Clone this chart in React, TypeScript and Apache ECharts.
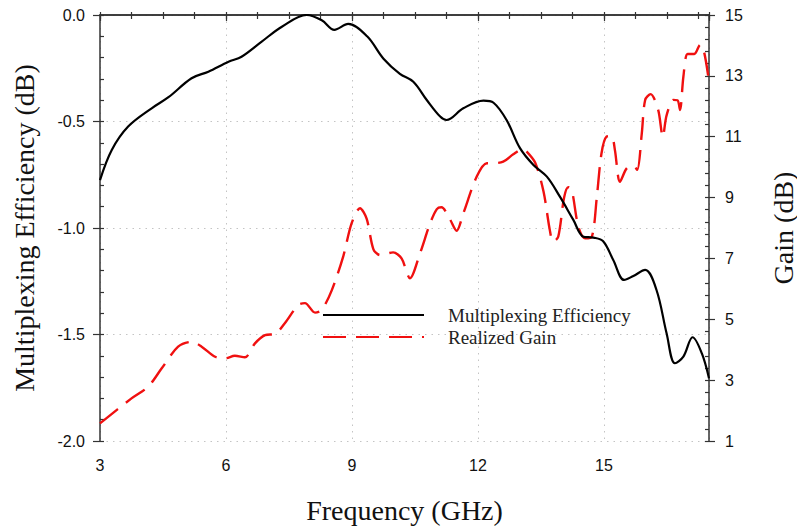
import React, { useEffect, useRef } from "react";
import * as echarts from "echarts";

const effFreq = [3.0, 3.28, 3.67, 4.23, 4.63, 5.18, 5.58, 6.06, 6.37, 6.85, 7.33, 7.92, 8.28, 8.58, 8.91, 9.36, 9.75, 10.14, 10.46, 10.78, 11.1, 11.25, 11.65, 12.13, 12.37, 12.68, 13.0, 13.32, 13.64, 13.95, 14.27, 14.51, 14.75, 14.98, 15.22, 15.48, 15.7, 15.98, 16.25, 16.49, 16.69, 16.89, 17.11, 17.33, 17.5];
const effValues = [-0.775, -0.634, -0.524, -0.438, -0.386, -0.297, -0.266, -0.219, -0.196, -0.125, -0.055, 0.0, -0.025, -0.07, -0.042, -0.1, -0.205, -0.276, -0.313, -0.399, -0.477, -0.493, -0.438, -0.402, -0.412, -0.493, -0.625, -0.704, -0.759, -0.853, -0.962, -1.041, -1.045, -1.062, -1.15, -1.244, -1.225, -1.197, -1.291, -1.494, -1.635, -1.604, -1.513, -1.589, -1.706];

const gainFreq = [3.0, 3.75, 4.15, 4.47, 4.86, 5.18, 5.42, 5.74, 5.98, 6.21, 6.45, 6.69, 6.93, 7.17, 7.4, 7.72, 7.88, 8.12, 8.28, 8.52, 8.79, 8.99, 9.19, 9.35, 9.51, 9.67, 9.98, 10.18, 10.38, 10.62, 10.86, 11.02, 11.13, 11.33, 11.49, 11.65, 11.97, 12.21, 12.37, 12.6, 12.84, 13.06, 13.16, 13.36, 13.56, 13.71, 13.79, 13.91, 14.05, 14.15, 14.23, 14.39, 14.55, 14.71, 14.83, 14.94, 15.06, 15.18, 15.26, 15.38, 15.54, 15.7, 15.79, 15.9, 15.98, 16.11, 16.29, 16.4, 16.49, 16.65, 16.75, 16.81, 16.89, 16.99, 17.15, 17.29, 17.38, 17.48];
const gainValues = [1.58, 2.4, 2.79, 3.39, 4.1, 4.26, 4.1, 3.77, 3.72, 3.8, 3.75, 4.21, 4.48, 4.52, 4.87, 5.47, 5.53, 5.22, 5.31, 5.96, 7.06, 8.15, 8.65, 8.3, 7.3, 7.11, 7.2, 7.0, 6.35, 7.17, 8.15, 8.62, 8.68, 8.29, 7.91, 8.48, 9.69, 10.13, 10.13, 10.18, 10.42, 10.59, 10.51, 10.15, 9.2, 7.93, 7.55, 7.71, 9.0, 9.34, 9.27, 8.04, 7.66, 7.71, 9.03, 10.45, 11.0, 11.02, 10.56, 9.52, 9.96, 10.05, 9.91, 11.11, 12.21, 12.4, 11.88, 11.0, 11.7, 12.21, 12.2, 11.88, 12.97, 13.72, 13.72, 14.02, 13.8, 13.0];

const xTicks = { min: 3, max: 17.5, interval: 3 };
const effTicks = { min: -2, max: 0, interval: 0.5 };
const gainTicks = { min: 1, max: 15, interval: 2 };

const seriesNames = ["Multiplexing Efficiency", "Realized Gain"];

const zip = (a: number[], b: number[]) => a.map((v, i) => [v, b[i]]);

const AXIS_COLOR = "#333";
const LABEL_FONT = { fontFamily: "'Liberation Sans', Arial, sans-serif", fontSize: 16, color: "#111" };
const NAME_FONT = { fontFamily: "'Liberation Serif', 'Times New Roman', serif", fontSize: 28, color: "#111" };

export default function App() {
  const ref = useRef<HTMLDivElement>(null);
  useEffect(() => {
    if (!ref.current) return;
    const chart = echarts.init(ref.current, undefined, { renderer: "svg" });
    const minorAxisBase = {
      type: "value",
      axisLine: { show: false },
      axisLabel: { show: false },
      splitLine: { show: false },
    };
    chart.setOption({
      animation: false,
      backgroundColor: "#fff",
      grid: { left: 100, right: 88, top: 15, bottom: 90, containLabel: false, outerBoundsMode: "none" },
      legend: {
        data: seriesNames,
        orient: "vertical",
        left: 322,
        top: 305,
        padding: 0,
        itemWidth: 101,
        itemHeight: 14,
        itemGap: 2,
        itemStyle: { opacity: 0 },
        textStyle: {
          fontFamily: "'Liberation Serif', 'Times New Roman', serif",
          fontSize: 19,
          color: "#222",
          lineHeight: 20,
          padding: [0, 0, 0, 19],
        },
      },
      xAxis: [
        {
          type: "value",
          position: "bottom",
          ...xTicks,
          name: "Frequency (GHz)",
          nameLocation: "middle",
          nameGap: 55,
          nameTextStyle: NAME_FONT,
          axisLine: { show: true, lineStyle: { color: AXIS_COLOR, width: 1.5 } },
          axisTick: { show: true, inside: false, length: 6, lineStyle: { color: AXIS_COLOR, width: 1.2 } },
          axisLabel: {
            ...LABEL_FONT,
            margin: 16,
            formatter: (v: number) => (v % 3 === 0 ? String(v) : ""),
          },
          splitLine: { show: true, lineStyle: { color: "#c4c4c4", type: [1.5, 5], width: 1 } },
        },
        {
          ...minorAxisBase,
          position: "bottom",
          min: xTicks.min,
          max: xTicks.max,
          interval: 0.75,
          axisTick: { show: true, inside: true, length: 3, lineStyle: { color: AXIS_COLOR, width: 1.2 } },
        },
        {
          ...minorAxisBase,
          position: "top",
          min: xTicks.min,
          max: xTicks.max,
          interval: 0.75,
          axisLine: { show: true, lineStyle: { color: AXIS_COLOR, width: 1.5 } },
          axisTick: { show: true, inside: true, length: 4, lineStyle: { color: AXIS_COLOR, width: 1.2 } },
        },
      ],
      yAxis: [
        {
          type: "value",
          position: "left",
          ...effTicks,
          name: "Multiplexing Efficiency (dB)",
          nameLocation: "middle",
          nameGap: 62,
          nameRotate: 90,
          nameTextStyle: NAME_FONT,
          axisLine: { show: true, lineStyle: { color: AXIS_COLOR, width: 1.5 } },
          axisTick: { show: true, inside: false, length: 7, lineStyle: { color: AXIS_COLOR, width: 1.2 } },
          axisLabel: { ...LABEL_FONT, margin: 15, formatter: (v: number) => v.toFixed(1) },
          splitLine: { show: true, lineStyle: { color: "#c4c4c4", type: [1.5, 5], width: 1 } },
        },
        {
          type: "value",
          position: "right",
          ...gainTicks,
          name: "Gain (dB)",
          nameLocation: "middle",
          nameGap: 60,
          nameRotate: 90,
          nameTextStyle: NAME_FONT,
          axisLine: { show: true, lineStyle: { color: AXIS_COLOR, width: 1.5 } },
          axisTick: { show: true, inside: false, length: 6, lineStyle: { color: AXIS_COLOR, width: 1.2 } },
          axisLabel: { ...LABEL_FONT, margin: 16 },
          splitLine: { show: false },
        },
        {
          ...minorAxisBase,
          position: "left",
          min: effTicks.min,
          max: effTicks.max,
          interval: 0.1,
          axisTick: { show: true, inside: true, length: 4, lineStyle: { color: AXIS_COLOR, width: 1.2 } },
        },
        {
          ...minorAxisBase,
          position: "right",
          min: gainTicks.min,
          max: gainTicks.max,
          interval: 0.4,
          axisTick: { show: true, inside: true, length: 4, lineStyle: { color: AXIS_COLOR, width: 1.2 } },
        },
      ],
      series: [
        {
          name: seriesNames[0],
          type: "line",
          xAxisIndex: 0,
          yAxisIndex: 0,
          data: zip(effFreq, effValues),
          smooth: 0.35,
          symbol: "none",
          lineStyle: { color: "#000", width: 2.2 },
          itemStyle: { color: "#000" },
          z: 3,
        },
        {
          name: seriesNames[1],
          type: "line",
          xAxisIndex: 0,
          yAxisIndex: 1,
          data: zip(gainFreq, gainValues),
          smooth: 0.3,
          symbol: "none",
          lineStyle: { color: "#f01010", width: 2.4, type: [23, 10] },
          itemStyle: { color: "#f01010" },
          z: 2,
        },
      ],
    });
    return () => chart.dispose();
  }, []);
  return (
    <div
      ref={ref}
      style={{ position: "absolute", left: 0, top: 0, width: 797, height: 531, background: "#fff" }}
    />
  );
}
